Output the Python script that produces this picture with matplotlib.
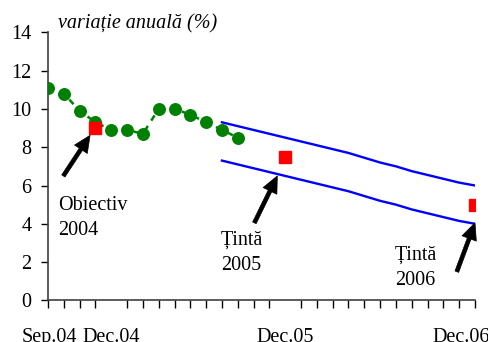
import matplotlib
import numpy as np

matplotlib.use("Agg")
import matplotlib.pyplot as plt


# monthly axis: Sep.04 .. Dec.06
months = [f"{m}.{y:02d}" for y in (4, 5, 6) for m in
          ["Jan", "Feb", "Mar", "Apr", "May", "Jun", "Jul", "Aug", "Sep", "Oct", "Nov", "Dec"]][8:]

# observed annual inflation, Sep.04 .. Sep.05
actual = [11.1, 10.8, 9.9, 9.3, 8.9, 8.9, 8.7, 10.0, 10.0, 9.7, 9.3, 8.9, 8.5]

# year-end targets
target_months = ["Dec.04", "Dec.05", "Dec.06"]
target_values = [9.0, 7.5, 5.0]

# target band, Aug.05 .. Dec.06
band_start = "Aug.05"
band_upper = [9.3, 9.1, 8.9, 8.7, 8.5, 8.3, 8.1, 7.9, 7.7, 7.45, 7.2, 7.0, 6.75, 6.55, 6.35, 6.15, 6.0]
band_lower = [7.3, 7.1, 6.9, 6.7, 6.5, 6.3, 6.1, 5.9, 5.7, 5.45, 5.2, 5.0, 4.75, 4.55, 4.35, 4.15, 4.0]

tick_labels = ["Sep.04", "Dec.04", "Dec.05", "Dec.06"]
label_shift = [0.1, 1.0, 0.0, -0.85]

notes = [
    ("Obiectiv\n2004", (0.63, 5.45), (0.97, 6.5), (2.66, 8.62)),
    ("Țintă\n2005", (10.95, 3.65), (13.05, 4.05), (14.5, 6.5)),
    ("Țintă\n2006", (21.95, 2.85), (25.85, 1.5), (27.0, 4.05)),
]

SERIF = ["Liberation Serif", "DejaVu Serif"]
plt.rcParams["font.family"] = SERIF

fig = plt.figure(figsize=(4.89, 3.42), dpi=100)
ax = fig.add_axes([48 / 489, 41.6 / 342, 427 / 489, 268.1 / 342])

x = np.arange(len(months))
pos = {m: i for i, m in enumerate(months)}

ax.plot(x[:len(actual)], actual, color="#008000", lw=1.8, ls=(0, (2.5, 2.5)),
        marker="o", ms=8.3, mec="#008000", mfc="#008000", zorder=3)

b0 = pos[band_start]
xb = x[b0:b0 + len(band_upper)]
ax.plot(xb, band_upper, color="#0000ff", lw=1.7, zorder=2)
ax.plot(xb, band_lower, color="#0000ff", lw=1.7, zorder=2)

ax.plot([pos[m] for m in target_months], target_values, ls="none", marker="s",
        ms=9, color="#ff0000", zorder=4)

for text, txy, tail, tip in notes:
    ax.text(txy[0], txy[1], text, fontsize=14.5, va="top", ha="left", linespacing=1.45)
    ax.annotate("", xy=tip, xytext=tail,
                arrowprops=dict(width=2.8, headwidth=11, headlength=12,
                                facecolor="black", edgecolor="black", lw=0.5, shrink=0),
                zorder=5)

ax.set_xlim(0, len(months) - 1)
ax.set_ylim(0, 14)
ax.set_yticks(np.arange(0, 15, 2))
ax.tick_params(axis="y", direction="out", length=5, width=1, pad=7, labelsize=14.5)

ax.set_xticks(x, minor=True)
ax.set_xticks([pos[m] + s for m, s in zip(tick_labels, label_shift)], tick_labels)
ax.tick_params(axis="x", which="minor", direction="out", length=6, width=1)
ax.tick_params(axis="x", which="major", length=0, pad=20, labelsize=14.5)

for side in ("top", "right"):
    ax.spines[side].set_visible(False)
for side in ("left", "bottom"):
    ax.spines[side].set_color("#404040")
    ax.spines[side].set_linewidth(1.2)

fig.text(58 / 489, 1 - 28 / 342, "variație anuală (%)", fontsize=14.5,
         style="italic", va="baseline", ha="left")

fig.savefig("out.png", dpi=100)
